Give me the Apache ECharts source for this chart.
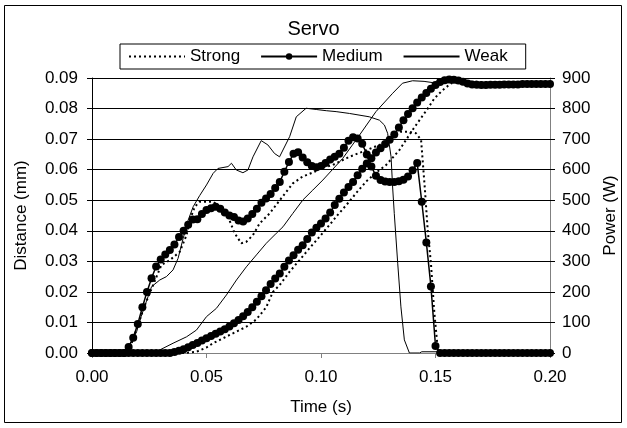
<!DOCTYPE html>
<html><head><meta charset="utf-8">
<script src="https://cdn.jsdelivr.net/npm/echarts@6/dist/echarts.min.js"></script>
<style>html,body{margin:0;padding:0;background:#fff}#c{width:627px;height:428px}</style>
</head><body><div id="c"></div>
<script>
// Medium: sampled every 0.002 s from 0 to 0.2 s
const medStep = 0.002;
const medPower = [0,0,0,0,0,0,0,0,20,50,95,150,200,245,283,306,322,337,355,380,400,420,437,438,455,468,474,479,472,460,450,445,434,430,440,455,472,492,506,520,540,560,593,625,652,657,640,624,612,608,612,622,633,642,652,672,695,706,702,685,650,610,580,566,561,560,560,562,567,578,598,622,495,362,218,23,0,0,0,0,0,0,0,0,0,0,0,0,0,0,0,0,0,0,0,0,0,0,0,0,0];
const medDist = [0,0,0,0,0,0,0,0,0,0,0,0,0,0,0,0,0,0,0.0003,0.0007,0.0012,0.0019,0.0026,0.0033,0.0041,0.0048,0.0056,0.0063,0.0070,0.0078,0.0087,0.0097,0.0108,0.0120,0.0134,0.0150,0.0168,0.0186,0.0205,0.0226,0.0244,0.0260,0.0282,0.0303,0.0320,0.0338,0.0353,0.0373,0.0394,0.0410,0.0424,0.0440,0.0460,0.0484,0.0505,0.0525,0.0543,0.0560,0.0582,0.0603,0.0620,0.0637,0.0656,0.0670,0.0684,0.0698,0.0715,0.0738,0.0762,0.0782,0.0801,0.0820,0.0836,0.0851,0.0865,0.0877,0.0887,0.0893,0.0895,0.0894,0.0892,0.0888,0.0882,0.0879,0.0878,0.0877,0.0877,0.0878,0.0878,0.0878,0.0879,0.0879,0.0879,0.0879,0.0880,0.0880,0.0880,0.0880,0.0880,0.0880,0.0880];

// Strong: [time s, value]
const strongDist = [[0,0],[0.040,0],[0.0456,0.0004],[0.050,0.0018],[0.0529,0.0032],[0.0601,0.0059],[0.0674,0.0086],[0.0718,0.0110],[0.0761,0.0150],[0.0790,0.0200],[0.0819,0.0222],[0.0863,0.0266],[0.0906,0.0304],[0.0950,0.0343],[0.0994,0.0381],[0.1037,0.0419],[0.1073,0.0452],[0.1117,0.0490],[0.1153,0.0523],[0.1197,0.0561],[0.1240,0.0590],[0.1284,0.0615],[0.1342,0.0664],[0.1400,0.0730],[0.1466,0.0800],[0.1495,0.0833],[0.1531,0.0860],[0.1567,0.0882],[0.1603,0.0888],[0.2000,0.0885]];
const strongPower = [[0,0],[0.014,0],[0.017,25],[0.020,90],[0.0231,157],[0.0282,250],[0.0303,288],[0.034,304],[0.0383,331],[0.0413,386],[0.0427,435],[0.0449,479],[0.047,495],[0.0529,495],[0.0558,479],[0.0594,446],[0.0623,392],[0.0652,359],[0.0674,364],[0.0703,386],[0.0732,424],[0.0776,457],[0.082,500],[0.0877,555],[0.0919,577],[0.0972,593],[0.100,605],[0.105,615],[0.1124,642],[0.1219,670],[0.127,686],[0.1313,708],[0.1349,724],[0.1386,724],[0.1415,719],[0.1437,697],[0.1454,533],[0.1466,402],[0.148,294],[0.1495,131],[0.1509,20],[0.152,0],[0.200,0]];

// Weak: [time s, value]
const weakDist = [[0,0],[0.025,0],[0.0296,0.0010],[0.0354,0.0032],[0.0413,0.0053],[0.0456,0.0075],[0.050,0.0119],[0.0543,0.0146],[0.0587,0.0190],[0.0631,0.0239],[0.0674,0.0282],[0.0718,0.0321],[0.0761,0.0359],[0.0805,0.0392],[0.0834,0.0413],[0.0877,0.0457],[0.0921,0.0501],[0.0964,0.0533],[0.1008,0.0566],[0.1095,0.0637],[0.1168,0.0713],[0.1240,0.0790],[0.1313,0.0850],[0.1356,0.0883],[0.1400,0.0891],[0.1450,0.0889],[0.1487,0.0885],[0.2000,0.0885]];
const weakPower = [[0,0],[0.015,0],[0.0166,30],[0.0195,70],[0.0215,120],[0.0238,170],[0.026,217],[0.0296,239],[0.0325,250],[0.0354,272],[0.0376,310],[0.0398,375],[0.042,435],[0.0442,479],[0.047,515],[0.050,550],[0.0529,588],[0.055,604],[0.0594,610],[0.0609,621],[0.063,599],[0.0659,590],[0.0681,599],[0.0703,642],[0.0739,695],[0.0768,681],[0.0797,653],[0.0819,642],[0.0863,708],[0.0892,773],[0.0935,801],[0.0979,797],[0.1023,793],[0.1066,790],[0.1124,784],[0.1211,773],[0.1255,762],[0.1277,746],[0.1291,719],[0.1306,642],[0.1313,540],[0.132,457],[0.1335,294],[0.1349,151],[0.1364,43],[0.1386,0],[0.1430,0],[0.1440,4],[0.1520,4],[0.1530,0],[0.200,0]];

const seriesNames = ['Strong','Medium','Weak'];
const distTicks = {min:0, max:0.09, interval:0.01};
const powerTicks = {min:0, max:900, interval:100};

const medDistPairs = medDist.map((v,i)=>[+(i*medStep).toFixed(3), v]);
const medPowerPairs = medPower.map((v,i)=>[+(i*medStep).toFixed(3), v]);

const font = 'Liberation Sans, Arial, sans-serif';
const chart = echarts.init(document.getElementById('c'), null, {renderer:'canvas'});
const dotted = {color:'#000', width:2, type:[2,3]};
const thin = {color:'#000', width:1};
const med = {color:'#000', width:1.5};
const hidden = {opacity:0, color:'rgba(0,0,0,0)', borderWidth:0};
chart.setOption({
  animation:false,
  backgroundColor:'#fff',
  textStyle:{fontFamily:font, color:'#000'},
  graphic:[{type:'rect', shape:{x:4.5,y:5.5,width:617,height:417}, style:{fill:'none', stroke:'#000', lineWidth:1}, z:-1}],
  title:{text:'Servo', left:'center', top:14, textStyle:{fontFamily:font, fontSize:20, fontWeight:'normal', color:'#000'}},
  legend:{data:[{name:seriesNames[0], itemStyle:hidden},{name:seriesNames[1]},{name:seriesNames[2], itemStyle:hidden}],
    left:120, top:44, itemWidth:56, itemHeight:8, itemGap:20,
    padding:[4,18,4,8], borderColor:'#000', borderWidth:1,
    textStyle:{fontFamily:font, fontSize:17, color:'#000'}},
  grid:{left:92, right:76, top:78, bottom:75, containLabel:false},
  xAxis:{type:'value', min:0, max:0.2, interval:0.05, name:'Time (s)', nameLocation:'middle', nameGap:46,
    nameTextStyle:{fontFamily:font, fontSize:17, color:'#000'},
    axisLine:{lineStyle:{color:'#808080'}}, axisTick:{inside:false, length:5, lineStyle:{color:'#808080'}},
    splitLine:{show:false},
    axisLabel:{margin:16, fontSize:17, fontFamily:font, color:'#000', formatter:v=>v.toFixed(2)}},
  yAxis:[
    {type:'value', min:distTicks.min, max:distTicks.max, interval:distTicks.interval, name:'Distance (mm)', nameLocation:'middle', nameGap:62,
      nameTextStyle:{fontFamily:font, fontSize:17, color:'#000'},
      axisLine:{show:true, lineStyle:{color:'#000'}}, axisTick:{show:true, length:5, lineStyle:{color:'#000'}},
      splitLine:{show:true, lineStyle:{color:'#000', width:1}},
      axisLabel:{margin:14, fontSize:17, fontFamily:font, color:'#000', formatter:v=>v.toFixed(2)}},
    {type:'value', position:'right', min:powerTicks.min, max:powerTicks.max, interval:powerTicks.interval, name:'Power (W)', nameLocation:'middle', nameGap:52,
      nameTextStyle:{fontFamily:font, fontSize:17, color:'#000'},
      axisLine:{show:true, lineStyle:{color:'#808080'}}, axisTick:{show:true, length:5, lineStyle:{color:'#000'}},
      splitLine:{show:false},
      axisLabel:{margin:12, fontSize:17, fontFamily:font, color:'#000'}}
  ],
  series:[
    {name:'Strong', type:'line', yAxisIndex:0, data:strongDist, symbol:'none', lineStyle:dotted, itemStyle:{color:'#000'}},
    {name:'Strong', type:'line', yAxisIndex:1, data:strongPower, symbol:'none', lineStyle:dotted, itemStyle:{color:'#000'}},
    {name:'Weak', type:'line', yAxisIndex:0, data:weakDist, symbol:'none', lineStyle:thin, itemStyle:{color:'#000'}},
    {name:'Weak', type:'line', yAxisIndex:1, data:weakPower, symbol:'none', lineStyle:thin, itemStyle:{color:'#000'}},
    {name:'Medium', type:'line', yAxisIndex:0, data:medDistPairs, symbol:'circle', symbolSize:8, showAllSymbol:true, lineStyle:med, itemStyle:{color:'#000'}},
    {name:'Medium', type:'line', yAxisIndex:1, data:medPowerPairs, symbol:'circle', symbolSize:8, showAllSymbol:true, lineStyle:med, itemStyle:{color:'#000'}}
  ]
});
</script></body></html>
